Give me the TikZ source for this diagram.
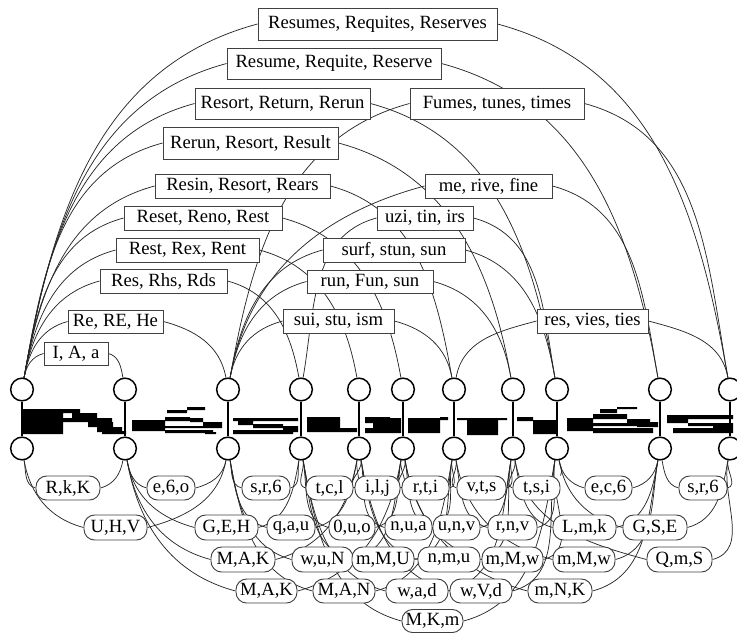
\documentclass[tikz,border=0pt]{standalone}
\usepackage{fontspec}
\setmainfont{Liberation Serif}
\pgfdeclarelayer{bg}
\pgfsetlayers{bg,main}
\newcommand\topedge[3]{\draw[lk] (#1) to[out=80,in=195] (#2.west); \draw[lk] (#2.east) to[out=-15,in=100] (#3);}
\newcommand\botedge[3]{\draw[lk] (#1) to[out=-80,in=165] (#2.west); \draw[lk] (#2.east) to[out=15,in=-100] (#3);}
\begin{document}
\begin{tikzpicture}[x=0.75pt,y=-0.75pt,font=\fontsize{14}{16}\selectfont,
  sz/.style 2 args={minimum width=#1*0.75pt,minimum height=#2*0.75pt},
  tbox/.style={draw=black!75,line width=0.7pt,fill=white,inner sep=0pt},
  lbox/.style={draw=black!75,line width=0.7pt,fill=white,inner sep=0pt,rounded corners=8pt,sz={48}{24}},
  seg/.style={circle,draw=black,line width=1.1pt,fill=white,minimum size=17pt,inner sep=0pt},
  lk/.style={draw=black!85,line width=0.55pt},
  px/.style={fill=black}]
\useasboundingbox (0,0) rectangle (737,633);
% bitmap strip
\fill[px] (22,409) rectangle (63,434) (63,409) rectangle (80,413) (72,413) rectangle (97,418)
  (63,418) rectangle (112,422) (88,422) rectangle (113,427) (97,427) rectangle (122,432) (102,431) rectangle (126,434);
\fill[px] (167,410) rectangle (187,413) (187,407) rectangle (205,410) (132,420) rectangle (165,431)
  (165,417) rectangle (190,421) (190,418) rectangle (203,422) (203,422) rectangle (222,428)
  (165,426) rectangle (222,428) (165,430) rectangle (213,433) (205,432) rectangle (216,434);
\fill[px] (233,418) rectangle (298,421) (238,421) rectangle (253,425) (253,424) rectangle (283,428)
  (283,426) rectangle (298,432) (233,430) rectangle (293,434);
\fill[px] (307,417) rectangle (340,432) (340,428) rectangle (357,432);
\fill[px] (365,417) rectangle (373,423) (365,428) rectangle (373,433) (373,417) rectangle (390,433) (390,418) rectangle (401,433);
\fill[px] (408,418) rectangle (440,433) (440,417) rectangle (448,420);
\fill[px] (457,418) rectangle (507,420) (467,420) rectangle (498,435);
\fill[px] (517,417) rectangle (533,421) (533,420) rectangle (556,434);
\fill[px] (567,418) rectangle (593,431) (593,414) rectangle (627,419) (600,409) rectangle (617,413) (617,407) rectangle (637,409)
  (627,419) rectangle (650,423) (637,422) rectangle (658,427) (593,423) rectangle (658,426) (593,428) rectangle (653,433);
\fill[px] (667,415) rectangle (733,419) (667,419) rectangle (688,423) (688,423) rectangle (713,426)
  (713,423) rectangle (733,432) (673,428) rectangle (733,433);
% segmentation circles
\foreach \i/\x in {1/22,2/125,3/228,4/301,5/359,6/403,7/454,8/513,9/557,10/660,11/730}{
  \node[seg] (t\i) at (\x,389.5) {};
  \node[seg] (b\i) at (\x,448.5) {};
  \draw[line width=0.8pt] (t\i.south) -- (b\i.north);
}
% word boxes
\node[tbox,sz={239}{32}] (wA) at (377.5,24) {Resumes, Requites, Reserves};
\node[tbox,sz={214}{31}] (wB) at (334,63.5) {Resume, Requite, Reserve};
\node[tbox,sz={175}{31}] (wC) at (282.5,103.5) {Resort, Return, Rerun};
\node[tbox,sz={174}{31}] (wD) at (497,103.5) {Fumes, tunes, times};
\node[tbox,sz={175}{32}] (wE) at (250.5,143) {Rerun, Resort, Result};
\node[tbox,sz={175}{24}] (wF) at (242.5,186) {Resin, Resort, Rears};
\node[tbox,sz={127}{24}] (wG) at (488.5,186) {me, rive, fine};
\node[tbox,sz={158}{24}] (wH) at (203,218) {Reset, Reno, Rest};
\node[tbox,sz={96}{24}] (wI) at (425,218) {uzi, tin, irs};
\node[tbox,sz={143}{24}] (wJ) at (187.5,250) {Rest, Rex, Rent};
\node[tbox,sz={142}{24}] (wK) at (394,250) {surf, stun, sun};
\node[tbox,sz={127}{24}] (wL) at (163.5,281) {Res, Rhs, Rds};
\node[tbox,sz={126}{23}] (wM) at (370,281.5) {run, Fun, sun};
\node[tbox,sz={95}{23}] (wN) at (115.5,321.5) {Re, RE, He};
\node[tbox,sz={111}{24}] (wO) at (338.5,321) {sui, stu, ism};
\node[tbox,sz={111}{24}] (wP) at (592.5,321) {res, vies, ties};
\node[tbox,sz={64}{23}] (wQ) at (76,353.5) {I, A, a};
% character labels
\node[lbox,sz={64}{24}] (c11) at (68,488) {R,k,K};
\node[lbox] (c12) at (171,488) {e,6,o};
\node[lbox] (c13) at (266,488) {s,r,6};
\node[lbox,sz={47}{24}] (c14) at (329.5,488) {t,c,l};
\node[lbox,sz={45}{24}] (c15) at (377.5,488) {i,l,j};
\node[lbox,sz={47}{24}] (c16) at (425.5,488) {r,t,i};
\node[lbox,sz={49}{24}] (c17) at (481.5,488) {v,t,s};
\node[lbox,sz={47}{24}] (c18) at (536.5,488) {t,s,i};
\node[lbox,sz={47}{24}] (c19) at (608.5,488) {e,c,6};
\node[lbox] (c1a) at (703,488) {s,r,6};
\node[lbox,sz={63}{25}] (c21) at (115.5,527.5) {U,H,V};
\node[lbox,sz={63}{25}] (c22) at (226.5,527.5) {G,E,H};
\node[lbox,sz={48}{25}] (c23) at (291,527.5) {q,a,u};
\node[lbox,sz={46}{25}] (c24) at (352,527.5) {0,u,o};
\node[lbox,sz={47}{25}] (c25) at (408.5,527.5) {n,u,a};
\node[lbox,sz={47}{25}] (c26) at (456.5,527.5) {u,n,v};
\node[lbox,sz={49}{25}] (c27) at (512.5,527.5) {r,n,v};
\node[lbox,sz={63}{25}] (c28) at (584.5,527.5) {L,m,k};
\node[lbox,sz={64}{25}] (c29) at (655,527.5) {G,S,E};
\node[lbox,sz={64}{25}] (c31) at (243,559.5) {M,A,K};
\node[lbox,sz={61}{25}] (c32) at (322.5,559.5) {w,u,N};
\node[lbox,sz={62}{25}] (c33) at (383,559.5) {m,M,U};
\node[lbox,sz={62}{25}] (c34) at (449,559.5) {n,m,u};
\node[lbox,sz={61}{25}] (c35) at (512.5,559.5) {m,M,w};
\node[lbox,sz={62}{25}] (c36) at (584,559.5) {m,M,w};
\node[lbox,sz={65}{25}] (c37) at (679.5,559.5) {Q,m,S};
\node[lbox,sz={61}{24}] (c41) at (266.5,591) {M,A,K};
\node[lbox,sz={62}{24}] (c42) at (344,591) {M,A,N};
\node[lbox,sz={62}{24}] (c43) at (417,591) {w,a,d};
\node[lbox,sz={62}{24}] (c44) at (481,591) {w,V,d};
\node[lbox,sz={64}{24}] (c45) at (560,591) {m,N,K};
\node[lbox,sz={61}{23}] (c51) at (432.5,621) {M,K,m};
\begin{pgfonlayer}{bg}
% word edges
\topedge{t1}{wA}{t11}
\topedge{t1}{wB}{t10}
\topedge{t1}{wC}{t9}
\topedge{t3}{wD}{t11}
\topedge{t1}{wE}{t8}
\topedge{t1}{wF}{t7}
\topedge{t3}{wG}{t10}
\topedge{t1}{wH}{t6}
\topedge{t4}{wI}{t9}
\topedge{t1}{wJ}{t5}
\topedge{t3}{wK}{t9}
\topedge{t1}{wL}{t4}
\topedge{t3}{wM}{t8}
\topedge{t1}{wN}{t3}
\topedge{t3}{wO}{t7}
\topedge{t7}{wP}{t11}
\topedge{t1}{wQ}{t2}
% character edges
\botedge{b1}{c11}{b2}
\botedge{b2}{c12}{b3}
\botedge{b3}{c13}{b4}
\botedge{b4}{c14}{b5}
\botedge{b5}{c15}{b6}
\botedge{b6}{c16}{b7}
\botedge{b7}{c17}{b8}
\draw[lk] (b8) to[out=-80,in=165] (c18.west);
\draw[lk] (c18.north east) to[out=60,in=-80] (b9);
\botedge{b9}{c19}{b10}
\botedge{b10}{c1a}{b11}
\botedge{b1}{c21}{b3}
\botedge{b2}{c22}{b4}
\botedge{b3}{c23}{b5}
\botedge{b4}{c24}{b6}
\botedge{b5}{c25}{b7}
\botedge{b6}{c26}{b8}
\botedge{b7}{c27}{b9}
\botedge{b8}{c28}{b10}
\botedge{b9}{c29}{b11}
\botedge{b2}{c31}{b5}
\botedge{b3}{c32}{b6}
\botedge{b4}{c33}{b7}
\botedge{b5}{c34}{b8}
\botedge{b6}{c35}{b9}
\botedge{b7}{c36}{b10}
\botedge{b8}{c37}{b11}
\botedge{b2}{c41}{b6}
\botedge{b3}{c42}{b7}
\botedge{b4}{c43}{b8}
\botedge{b5}{c44}{b9}
\botedge{b6}{c45}{b10}
\botedge{b4}{c51}{b9}
\end{pgfonlayer}
\end{tikzpicture}
\end{document}
